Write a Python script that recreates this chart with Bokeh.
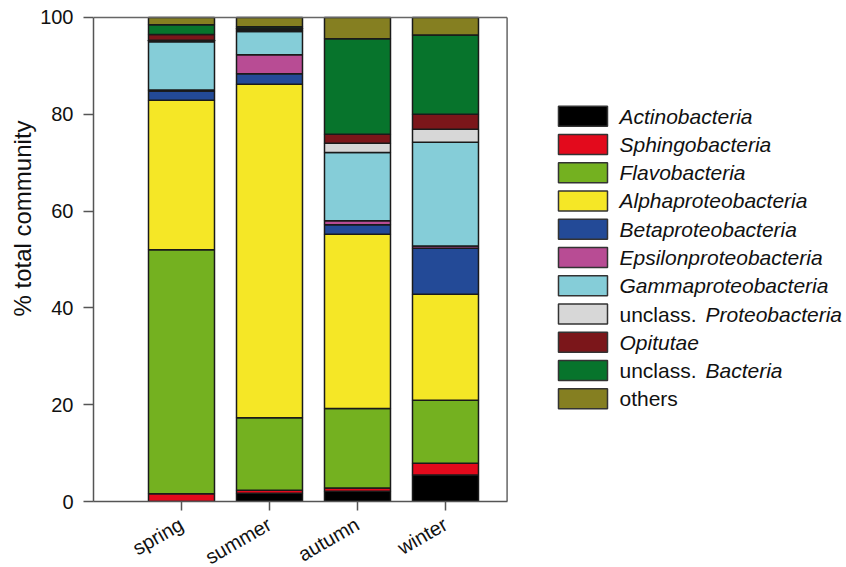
import math
from bokeh.plotting import figure
from bokeh.models import Range1d, FixedTicker, ColumnDataSource, LinearAxis
from bokeh.embed import file_html
from bokeh.resources import INLINE
from bokeh.core.properties import value

# ---- data ----
seasons = ["spring", "summer", "autumn", "winter"]
groups = ["Actinobacteria", "Sphingobacteria", "Flavobacteria", "Alphaproteobacteria",
          "Betaproteobacteria", "Epsilonproteobacteria", "Gammaproteobacteria",
          "unclass. Proteobacteria", "Opitutae", "unclass. Bacteria", "others"]
colors = ["#000000", "#e30a1c", "#74b120", "#f5e726", "#234a97", "#b84c94",
          "#85cdd8", "#d7d7d7", "#7b161a", "#07742c", "#857f21"]
actino = [0.0, 1.7, 2.1, 5.5]
sphingo = [1.6, 0.6, 0.7, 2.4]
flavo = [50.4, 15.0, 16.4, 13.0]
alpha = [30.9, 68.9, 36.0, 21.9]
beta = [1.9, 2.2, 2.0, 9.5]
epsilon = [0.2, 3.9, 0.8, 0.5]
gamma = [10.0, 4.8, 14.1, 21.4]
unc_proteo = [0.3, 0.3, 1.9, 2.7]
opitutae = [1.2, 0.3, 1.9, 3.1]
unc_bact = [2.0, 0.4, 19.7, 16.4]
others = [1.5, 1.9, 4.4, 3.6]
y_ticks = [0, 20, 40, 60, 80, 100]
y_title = "% total community"

FONT = "Liberation Sans"
series = [actino, sphingo, flavo, alpha, beta, epsilon, gamma, unc_proteo, opitutae, unc_bact, others]
xpos = list(range(1, len(seasons) + 1))
data = {"x": xpos}
for g, s in zip(groups, series):
    data[g] = s
src = ColumnDataSource(data)

XMAX_PLOT = 4.7      # right edge of the boxed plot area (x units)
YTOP = 100

p = figure(output_backend="svg", toolbar_location=None, width=846, height=580,
           min_border_left=93, min_border_right=0, min_border_top=15, min_border_bottom=79,
           x_range=Range1d(0, 8.557), y_range=Range1d(0, 100.41))
p.vbar_stack(groups, x="x", width=0.75, color=colors, source=src,
             line_color="#1a1a1a", line_width=1.5)

# box: top and right lines
p.segment(x0=[0, XMAX_PLOT], y0=[YTOP, 0], x1=[XMAX_PLOT, XMAX_PLOT], y1=[YTOP, YTOP],
          line_color="#666666", line_width=1.5)

p.xgrid.visible = False
p.ygrid.visible = False
p.outline_line_color = None

p.yaxis.ticker = FixedTicker(ticks=y_ticks)
p.yaxis.bounds = (0, YTOP)
p.xaxis.bounds = (0, XMAX_PLOT)
p.xaxis.ticker = FixedTicker(ticks=xpos)
p.xaxis.major_label_overrides = {x: s for x, s in zip(xpos, seasons)}
p.xaxis.major_label_orientation = math.radians(30)
for ax in (p.xaxis, p.yaxis):
    ax.axis_line_color = "#555555"
    ax.axis_line_width = 1.5
    ax.major_tick_line_color = "#555555"
    ax.major_tick_line_width = 1.5
    ax.major_tick_in = 0
    ax.minor_tick_line_color = None
    ax.major_label_text_font = FONT
    ax.major_label_text_font_size = "20px"
    ax.major_label_text_color = "#111111"
p.yaxis.major_tick_out = 10
p.xaxis.major_tick_out = 9
p.yaxis.major_label_standoff = 10
p.xaxis.major_label_standoff = 12

# y-axis title on a bare outer axis; leading no-break spaces lift it above the frame centre
title_axis = LinearAxis(ticker=FixedTicker(ticks=[]),
                        axis_line_color=None, major_tick_line_color=None,
                        minor_tick_line_color=None, major_label_text_color=None,
                        axis_label="\u00a0" * 12 + y_title, axis_label_standoff=2,
                        axis_label_text_font=FONT, axis_label_text_font_size="24px",
                        axis_label_text_font_style="normal", axis_label_text_color="#111111")
p.add_layout(title_axis, "left")

# ---- legend drawn inside the wide frame ----
bx0, bx1, tx = 5.284, 5.841, 5.977
ly0, ldy, lh = 79.61, 5.839, 2.066
ys = [ly0 - i * ldy for i in range(len(groups))]
p.quad(left=bx0, right=bx1, top=[y + lh for y in ys], bottom=[y - lh for y in ys],
       fill_color=colors, line_color="#333333", line_width=1.5)

norm_txt, norm_y, ital_txt, ital_y, ital_x = [], [], [], [], []
for g, y in zip(groups, ys):
    if g.startswith("unclass. "):
        norm_txt.append("unclass."); norm_y.append(y)
        ital_txt.append(g[len("unclass. "):]); ital_y.append(y); ital_x.append(tx + 86 / 88)
    elif g == "others":
        norm_txt.append(g); norm_y.append(y)
    else:
        ital_txt.append(g); ital_y.append(y); ital_x.append(tx)
p.text(x=tx, y=norm_y, text=norm_txt, text_font=value(FONT), text_font_size="21px",
       text_baseline="middle", text_align="left", text_color="#111111")
p.text(x=ital_x, y=ital_y, text=ital_txt, text_font=value(FONT), text_font_size="21px",
       text_font_style="italic", text_baseline="middle", text_align="left", text_color="#111111")

open("out.html", "w").write(file_html(p, INLINE))
